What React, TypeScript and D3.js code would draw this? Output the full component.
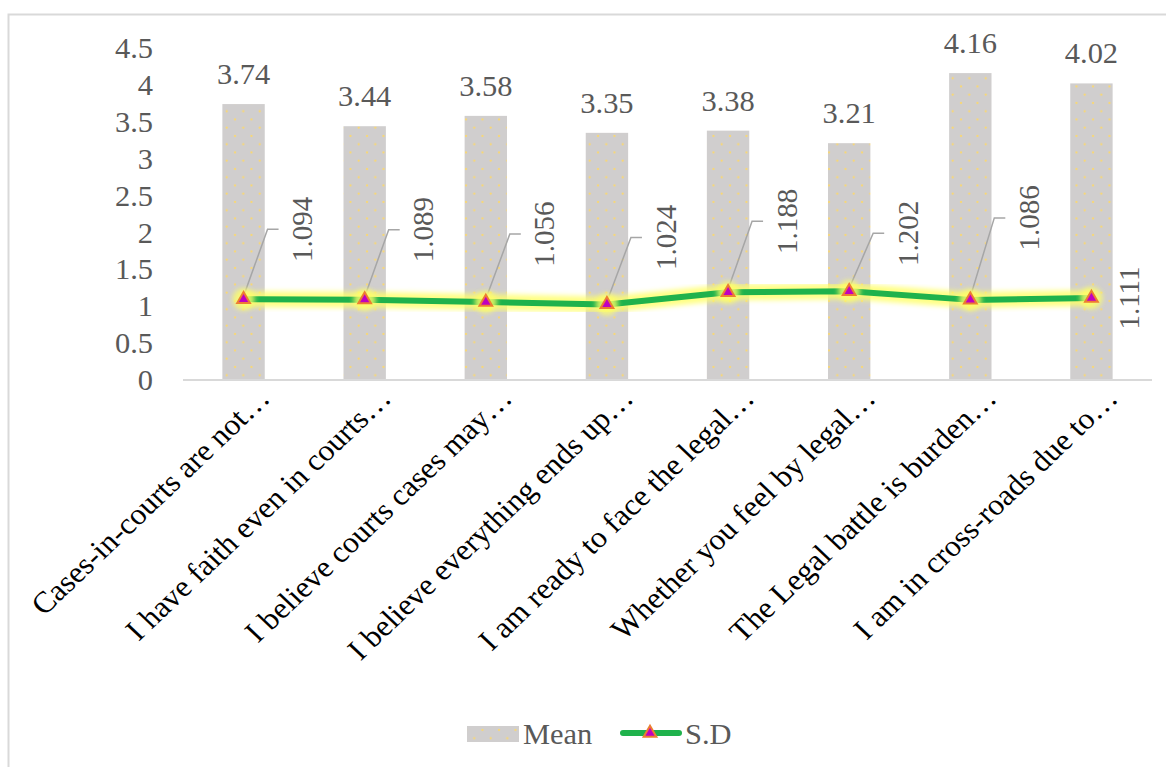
import React from "react";
import * as d3 from "d3";

const categories = [
  "Cases-in-courts are not…",
  "I have faith even in courts…",
  "I believe courts cases may…",
  "I believe everything ends up…",
  "I am ready to face the legal…",
  "Whether you feel by legal…",
  "The Legal battle is burden…",
  "I am in cross-roads due to…",
];
const meanValues = [3.74, 3.44, 3.58, 3.35, 3.38, 3.21, 4.16, 4.02];
const sdValues = [1.094, 1.089, 1.056, 1.024, 1.188, 1.202, 1.086, 1.111];
const yTicks = [0, 0.5, 1, 1.5, 2, 2.5, 3, 3.5, 4, 4.5];
const seriesNames = ["Mean", "S.D"];

// layout
const W = 1166;
const H = 767;
const X0 = 183;
const X1 = 1152;
const Y0 = 380;
const YTOP = 48;
const SX = 1.05;
const FS = 29;
const FONT = "Liberation Serif, serif";
const sdLabelDy = [-70, -70, -68, -67, -71, -58, -82, 0];

const x = d3.scaleBand<string>().domain(categories).range([X0, X1]).paddingInner(0.65).paddingOuter(0.325);
const y = d3.scaleLinear().domain([0, 4.5]).range([Y0, YTOP]);

function T(props: {
  x: number;
  y: number;
  rot?: number;
  anchor?: string;
  fill?: string;
  dy?: string;
  size?: number;
  children: React.ReactNode;
}) {
  const { rot = 0, anchor = "middle", fill = "#595959", dy, size = FS } = props;
  return (
    <text
      transform={`translate(${props.x},${props.y}) scale(${SX},1) rotate(${rot})`}
      textAnchor={anchor}
      fill={fill}
      dy={dy}
      style={{ fontFamily: FONT, fontSize: size }}
    >
      {props.children}
    </text>
  );
}

export default function App() {
  const cx = (c: string) => (x(c) as number) + x.bandwidth() / 2;
  const pts: [number, number][] = categories.map((c, i) => [cx(c), y(sdValues[i])]);
  const line = d3.line<[number, number]>().x((d) => d[0]).y((d) => d[1]);
  const tri = d3.symbol().type(d3.symbolTriangle).size(70)();

  return (
    <svg width={W} height={H} style={{ position: "absolute", left: 0, top: 0 }}>
      <defs>
        <pattern id="dots" patternUnits="userSpaceOnUse" width={16.5} height={16.5}>
          <rect width={16.5} height={16.5} fill="#d0cece" />
          <circle cx={4} cy={4} r={1.1} fill="#ffd966" />
          <circle cx={12.25} cy={12.25} r={1.1} fill="#ffd966" />
        </pattern>
        <filter id="glow" x="-20%" y="-50%" width="140%" height="200%">
          <feGaussianBlur stdDeviation={2.5} />
        </filter>
      </defs>
      <rect x={0} y={0} width={W} height={H} fill="#fff" />
      <rect x={8.5} y={14.5} width={W + 20} height={H + 20} fill="none" stroke="#d9d9d9" strokeWidth={2} />

      {/* y ticks */}
      {yTicks.map((t) => (
        <T key={t} x={153} y={y(t)} anchor="end" dy="0.35em">
          {String(t)}
        </T>
      ))}

      {/* bars */}
      {categories.map((c, i) => (
        <rect
          key={c}
          x={x(c)}
          y={y(meanValues[i])}
          width={x.bandwidth()}
          height={Y0 - y(meanValues[i])}
          fill="url(#dots)"
        />
      ))}

      {/* axis baseline */}
      <line x1={X0} x2={X1} y1={Y0} y2={Y0} stroke="#d9d9d9" strokeWidth={2} />

      {/* mean labels */}
      {categories.map((c, i) => (
        <T key={c} x={cx(c)} y={y(meanValues[i]) - 20}>
          {meanValues[i].toFixed(2)}
        </T>
      ))}

      {/* SD leader lines */}
      {pts.map((p, i) => {
        if (sdLabelDy[i] === 0) return null;
        const lx = p[0] + 58;
        const ly = p[1] + sdLabelDy[i];
        return (
          <path
            key={i}
            d={`M${p[0]},${p[1] - 3}L${lx - 34},${ly}L${lx - 23},${ly}`}
            fill="none"
            stroke="#a6a6a6"
            strokeWidth={1.5}
          />
        );
      })}

      {/* SD line */}
      <path d={line(pts) || ""} fill="none" stroke="#ffff66" strokeOpacity={0.8} strokeWidth={16} filter="url(#glow)" />
      <path d={line(pts) || ""} fill="none" stroke="#1fb24c" strokeWidth={6} strokeLinejoin="round" />
      {pts.map((p, i) => (
        <g key={i} transform={`translate(${p[0]},${p[1]})`}>
          <circle r={11} fill="#ffff66" opacity={0.8} filter="url(#glow)" />
          <path d={tri || ""} fill="#c000c0" stroke="#ed7d31" strokeWidth={2} />
        </g>
      ))}

      {/* SD labels */}
      {pts.map((p, i) => {
        const last = sdLabelDy[i] === 0;
        const lx = last ? p[0] + 37 : p[0] + 58;
        const ly = p[1] + sdLabelDy[i];
        return (
          <T key={i} x={lx} y={ly} rot={-90} dy="0.35em">
            {sdValues[i].toFixed(3)}
          </T>
        );
      })}

      {/* category labels */}
      {categories.map((c) => (
        <T key={c} x={cx(c) + 28} y={400} rot={-45} anchor="end" fill="#000" size={30}>
          {c}
        </T>
      ))}

      {/* legend */}
      <rect x={467} y={726} width={52} height={16} fill="url(#dots)" />
      <T x={523} y={744} anchor="start">
        {seriesNames[0]}
      </T>
      <line x1={623} x2={679} y1={733} y2={733} stroke="#1fb24c" strokeWidth={6} strokeLinecap="round" />
      <path transform="translate(650,733)" d={tri || ""} fill="#c000c0" stroke="#ed7d31" strokeWidth={2} />
      <T x={685} y={744} anchor="start">
        {seriesNames[1]}
      </T>
    </svg>
  );
}
